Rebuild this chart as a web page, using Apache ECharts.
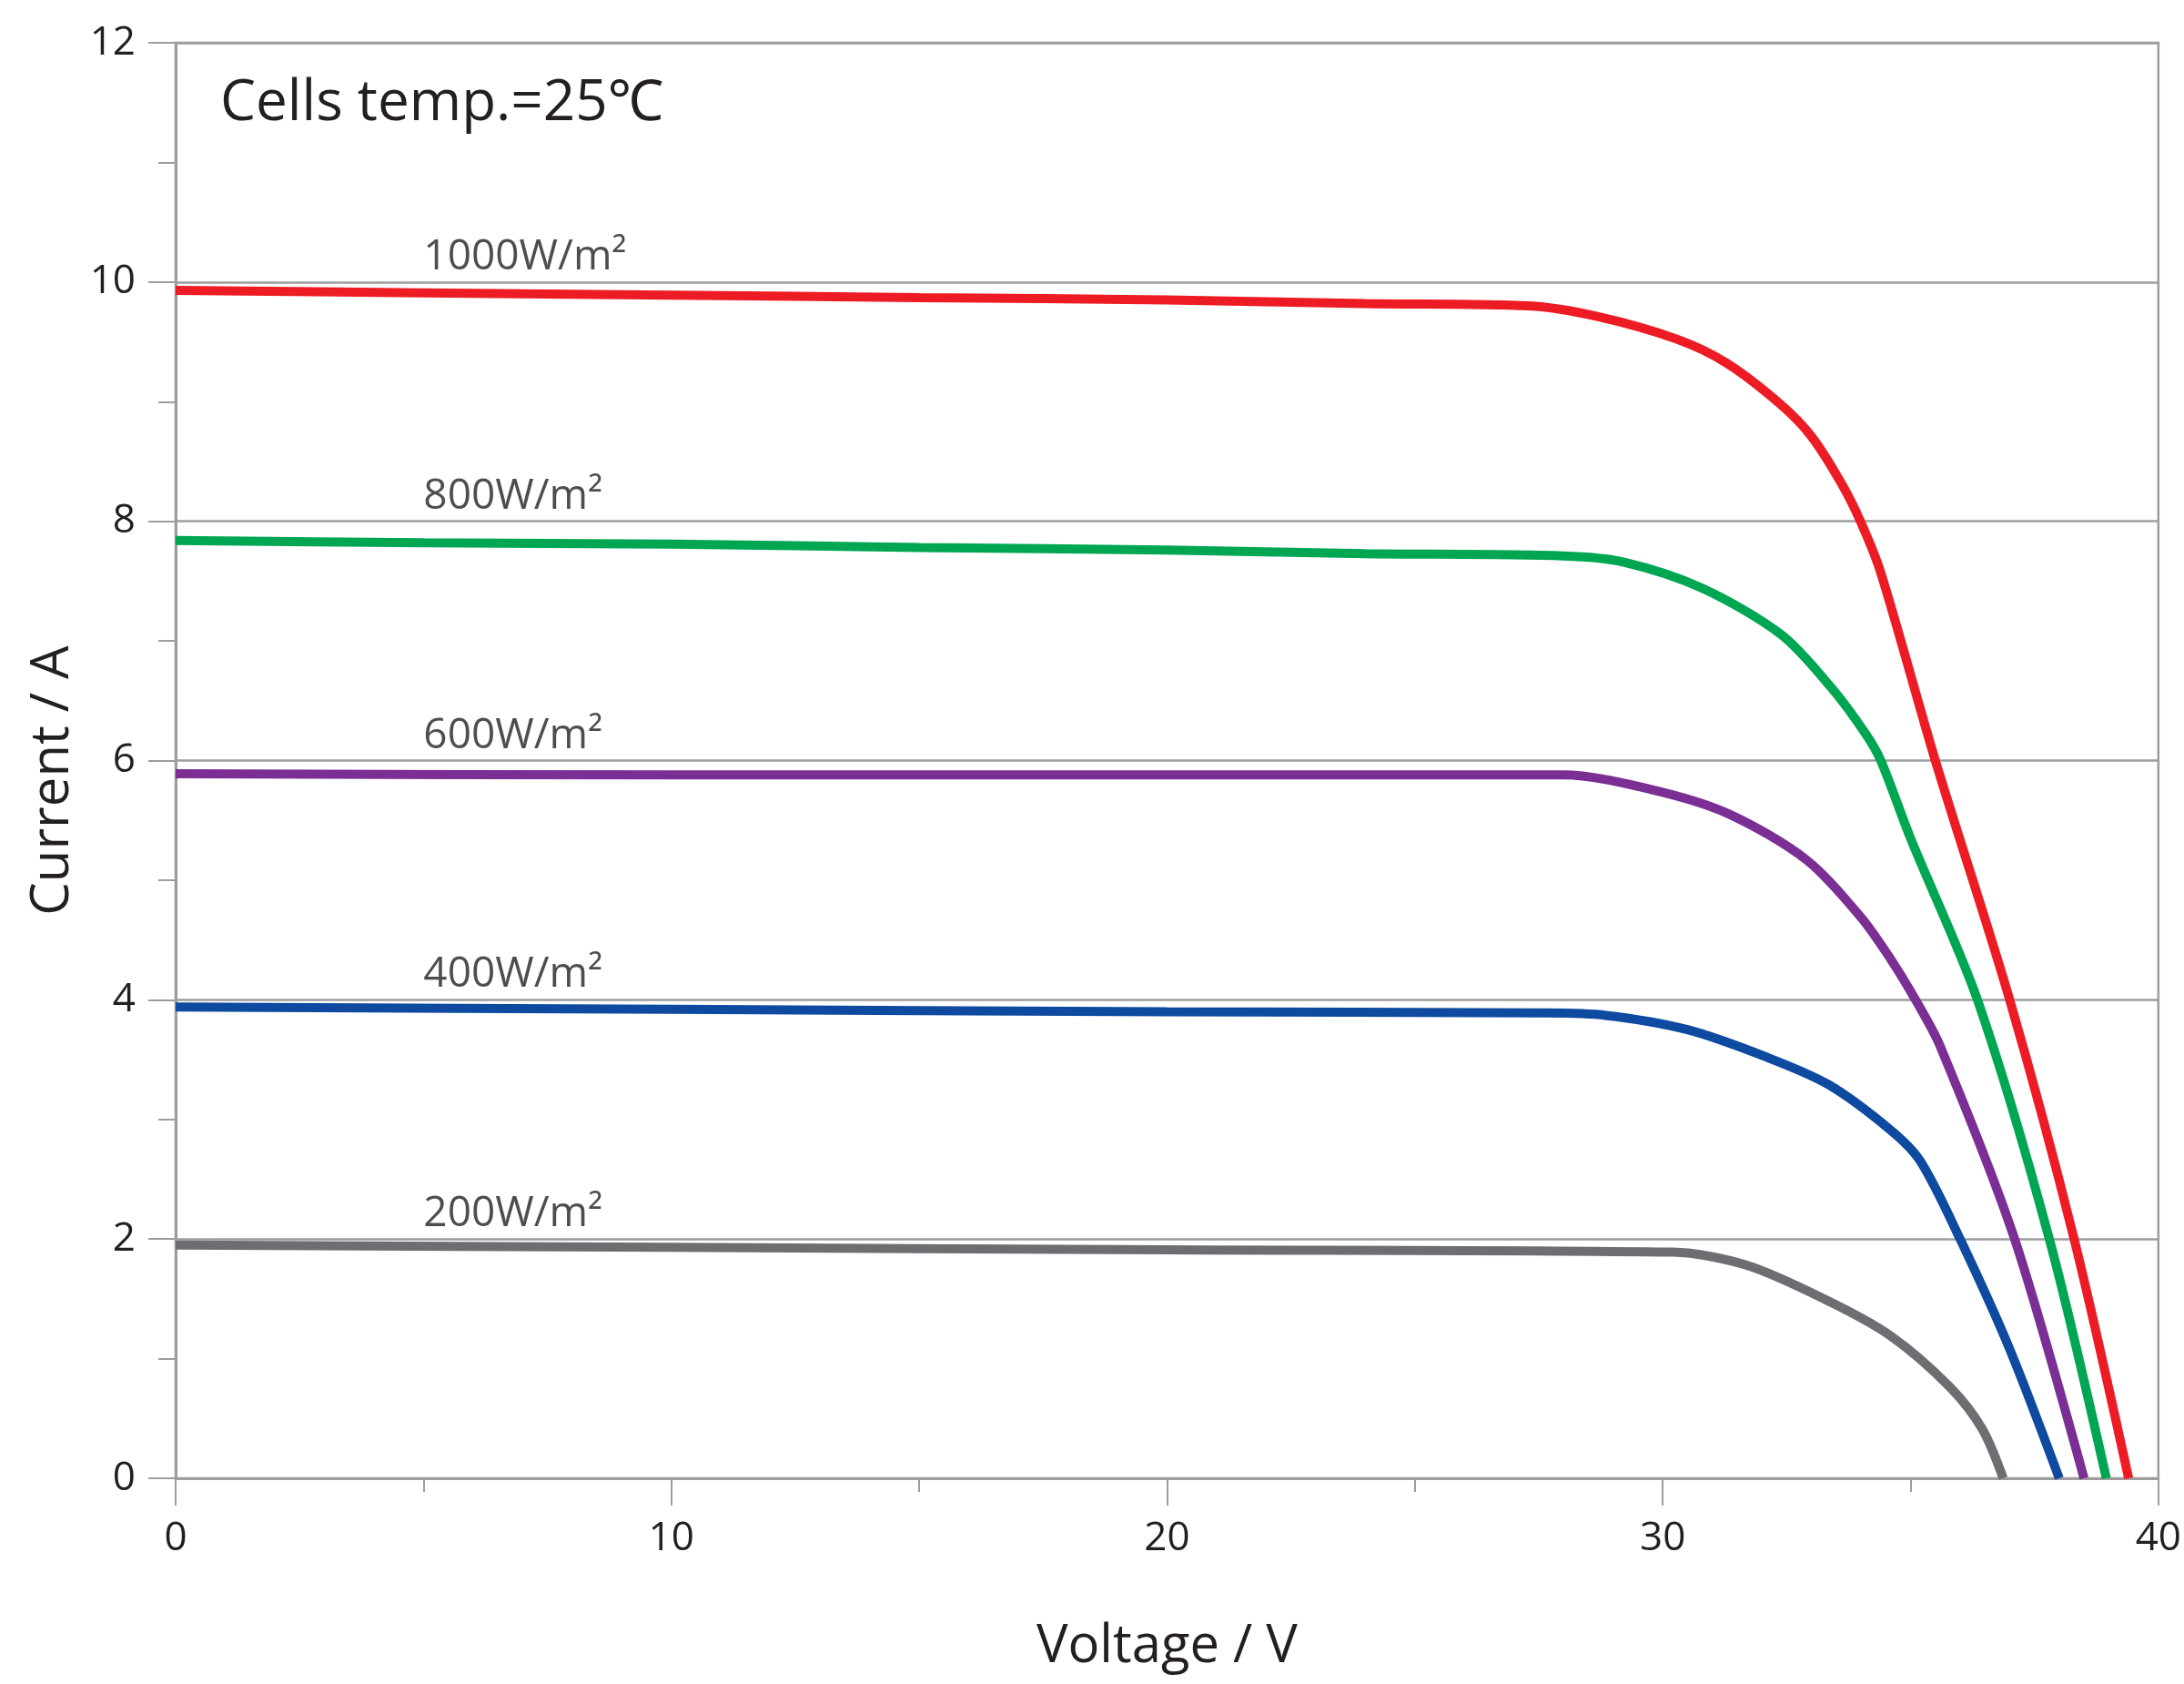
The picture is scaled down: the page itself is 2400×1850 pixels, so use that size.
<!DOCTYPE html>
<html>
<head>
<meta charset="utf-8">
<script src="https://cdn.jsdelivr.net/npm/echarts@6/dist/echarts.min.js"></script>
<style>
html,body{margin:0;padding:0;background:#fff;}
#chart{width:2400px;height:1850px;}
</style>
</head>
<body>
<div id="chart"></div>
<script>
// ---- data (voltage V, current A) ----
const seriesNames = ['1000W/m²', '800W/m²', '600W/m²', '400W/m²', '200W/m²'];
const seriesColors = ['#ed1c24', '#00a651', '#7b2f95', '#0d4aa0', '#6d6e71'];

const v1000 = [0, 5, 10, 15, 20, 24, 27.3, 28.7, 30.3, 31.3, 32.4, 33.0, 33.6, 34.0, 34.4, 35.5, 37.0, 38.3, 39.4];
const i1000 = [9.93, 9.91, 9.89, 9.87, 9.85, 9.82, 9.80, 9.71, 9.52, 9.32, 8.97, 8.71, 8.32, 7.99, 7.57, 6.0, 4.0, 2.0, 0];

const v800 = [0, 5, 10, 15, 20, 24, 28.0, 29.2, 30.8, 32.4, 33.4, 34.1, 34.4, 35.0, 36.35, 37.8, 38.95];
const i800 = [7.84, 7.82, 7.81, 7.78, 7.76, 7.73, 7.71, 7.66, 7.44, 7.05, 6.61, 6.22, 6.0, 5.35, 4.0, 2.0, 0];

const v600 = [0, 10, 20, 28.0, 29.75, 31.3, 32.9, 34.0, 34.6, 35.1, 35.6, 37.1, 38.5];
const i600 = [5.89, 5.88, 5.88, 5.88, 5.76, 5.56, 5.17, 4.69, 4.34, 4.0, 3.61, 2.0, 0];

const v400 = [0, 10, 20, 27.6, 28.85, 30.5, 32.1, 33.35, 34.6, 35.2, 36.0, 37.0, 38.0];
const i400 = [3.94, 3.92, 3.90, 3.89, 3.87, 3.75, 3.52, 3.29, 2.91, 2.65, 2.0, 1.08, 0];

const v200 = [0, 10, 20, 30.2, 31.7, 33.35, 34.6, 35.8, 36.45, 36.87];
const i200 = [1.95, 1.93, 1.91, 1.89, 1.78, 1.48, 1.19, 0.76, 0.41, 0];

// label anchors (data space)
const labelVoltage = [5, 5, 5, 5, 5];
const labelCurrent = [10, 8, 6, 4, 2];

const titleText = 'Cells temp.=25℃';
const xName = 'Voltage / V';
const yName = 'Current / A';

function pairs(v, i) { return v.map((x, k) => [x, i[k]]); }
const curves = [pairs(v1000, i1000), pairs(v800, i800), pairs(v600, i600), pairs(v400, i400), pairs(v200, i200)];

const FONT = '"Open Sans", "Noto Sans", sans-serif';
const TXT = '#231f20';
const GRID = '#9d9d9d';

const lineSeries = curves.map((d, k) => ({
  name: seriesNames[k],
  type: 'line',
  data: d,
  smooth: 0.3,
  showSymbol: false,
  symbol: 'none',
  lineStyle: { color: seriesColors[k], width: 10 },
  z: 10 - k
})).reverse();

const labelSeries = {
  type: 'scatter',
  symbolSize: 0,
  data: labelVoltage.map((v, k) => ({ value: [v, labelCurrent[k]], name: seriesNames[k] })),
  label: {
    show: true,
    formatter: p => p.name,
    position: [0, -4],
    align: 'left',
    verticalAlign: 'bottom',
    fontFamily: FONT,
    fontSize: 46,
    color: TXT
  },
  silent: true,
  z: 20
};

const chart = echarts.init(document.getElementById('chart'), null, { renderer: 'canvas' });
chart.setOption({
  animation: false,
  backgroundColor: '#ffffff',
  title: {
    text: titleText,
    left: 237,
    top: 78,
    textStyle: { fontFamily: FONT, fontSize: 62, fontWeight: 'normal', color: TXT }
  },
  grid: {
    left: 193, right: 25, top: 47, bottom: 226,
    show: true, borderColor: GRID, borderWidth: 2.5, backgroundColor: 'transparent'
  },
  xAxis: {
    type: 'value',
    min: 0, max: 40, interval: 10,
    name: xName,
    nameLocation: 'middle',
    nameGap: 156,
    nameTextStyle: { fontFamily: FONT, fontSize: 58, color: TXT },
    axisLine: { show: true, lineStyle: { color: GRID, width: 3 } },
    axisTick: { show: true, inside: false, length: 30, lineStyle: { color: GRID, width: 2 } },
    minorTick: { show: true, splitNumber: 2, length: 15, lineStyle: { color: GRID, width: 2 } },
    axisLabel: { fontFamily: FONT, fontSize: 44, color: TXT, margin: 44 },
    splitLine: { show: false }
  },
  yAxis: {
    type: 'value',
    min: 0, max: 12, interval: 2,
    name: yName,
    nameLocation: 'middle',
    nameGap: 104,
    nameRotate: 90,
    nameTextStyle: { fontFamily: FONT, fontSize: 58, color: TXT, padding: [0, 44, 0, 0] },
    axisLine: { show: true, lineStyle: { color: GRID, width: 3 } },
    axisTick: { show: true, inside: false, length: 30, lineStyle: { color: GRID, width: 2 } },
    minorTick: { show: true, splitNumber: 2, length: 19, lineStyle: { color: GRID, width: 2 } },
    axisLabel: { fontFamily: FONT, fontSize: 44, color: TXT, margin: 44 },
    splitLine: { show: true, lineStyle: { color: GRID, width: 2.5 } }
  },
  series: [...lineSeries, labelSeries]
});
</script>
</body>
</html>
